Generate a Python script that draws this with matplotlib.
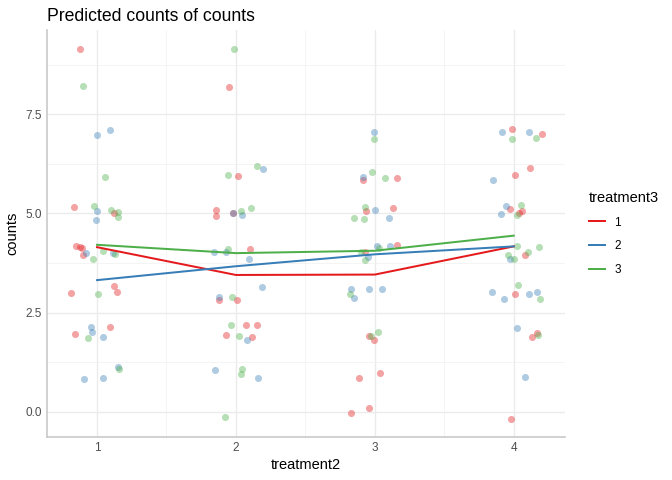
import numpy as np
import matplotlib.pyplot as plt
from matplotlib.ticker import MultipleLocator

plt.rcParams['font.family'] = ['Liberation Sans', 'DejaVu Sans']

# valors llegits del gràfic (punts amb jitter)
red_x = [0.875, 0.835, 1.12, 0.847, 0.878, 0.89, 0.897, 0.81, 1.12, 1.146, 1.09, 0.84,
         1.947, 2.014, 1.856, 1.854, 1.978, 2.10, 1.878, 2.01, 2.07, 2.15, 1.93, 2.115,
         2.914, 3.158, 2.933, 3.13, 3.16, 2.93, 2.955, 2.995, 2.885, 3.04, 2.955, 2.83,
         3.986, 4.20, 4.12, 4.01, 3.97, 4.06, 4.04, 4.08, 4.01, 4.17, 4.13, 3.98]
red_y = [9.14, 5.15, 5.0, 4.17, 4.16, 4.12, 3.95, 3.0, 3.17, 3.01, 2.13, 1.96,
         8.19, 5.93, 5.09, 4.94, 5.0, 4.10, 2.82, 2.81, 2.19, 2.20, 1.94, 1.90,
         5.83, 5.89, 5.07, 5.13, 4.21, 4.02, 1.91, 1.82, 0.86, 0.97, 0.09, -0.02,
         7.12, 6.99, 6.14, 5.96, 5.11, 5.07, 5.0, 3.96, 2.96, 2.0, 1.90, -0.18]

blue_x = [1.0, 1.09, 1.0, 0.995, 0.92, 1.115, 0.957, 0.964, 1.045, 1.149, 0.904, 1.045,
          2.194, 1.978, 2.045, 1.84, 1.926, 2.096, 2.19, 1.875, 2.08, 1.85, 2.16,
          2.993, 2.916, 3.0, 3.10, 3.012, 3.11, 2.95, 2.83, 2.96, 3.05, 2.85,
          3.916, 4.11, 3.85, 3.945, 3.906, 3.975, 3.84, 4.11, 4.17, 3.93, 4.02, 4.08]
blue_y = [6.98, 7.10, 5.06, 4.84, 4.01, 4.01, 2.14, 2.02, 1.90, 1.14, 0.83, 0.85,
          6.13, 5.0, 4.96, 4.04, 4.04, 3.85, 3.15, 2.90, 1.81, 1.06, 0.86,
          7.05, 5.92, 5.09, 4.89, 4.19, 4.17, 3.91, 3.10, 3.10, 3.10, 2.86,
          7.05, 7.05, 5.84, 5.18, 4.98, 3.84, 3.01, 2.96, 3.01, 2.85, 2.11, 0.89]

green_x = [0.90, 1.06, 0.976, 1.10, 1.153, 1.15, 0.97, 1.04, 1.127, 1.005, 0.935, 1.158,
           1.985, 2.155, 1.94, 2.034, 2.106, 1.945, 1.973, 1.966, 2.02, 2.04, 2.036, 1.92,
           2.995, 2.98, 3.07, 2.926, 2.85, 2.92, 3.03, 2.90, 2.93, 2.82, 3.02, 2.97,
           3.99, 4.16, 4.055, 4.02, 4.02, 4.105, 4.185, 3.96, 4.0, 4.03, 4.19, 4.177]
green_y = [8.22, 5.92, 5.19, 5.09, 5.03, 4.91, 3.85, 4.06, 3.97, 2.98, 1.86, 1.07,
           9.13, 6.20, 5.96, 5.06, 5.14, 4.11, 2.90, 2.20, 1.91, 1.07, 0.96, -0.13,
           6.87, 6.04, 5.88, 5.15, 4.89, 4.86, 4.14, 4.04, 3.83, 2.97, 2.01, 1.91,
           6.88, 6.90, 5.20, 4.95, 4.17, 4.02, 4.16, 3.95, 3.86, 3.20, 2.85, 1.93]

# prediccions
treatment2 = [1, 2, 3, 4]
pred_1 = [4.15, 3.45, 3.46, 4.17]
pred_2 = [3.32, 3.67, 3.97, 4.17]
pred_3 = [4.21, 4.00, 4.06, 4.44]

col1, col2, col3 = '#E41A1C', '#377EB8', '#4DAF4A'

fig = plt.figure(figsize=(7, 5), dpi=96)
ax = fig.add_axes([0.070, 0.0896, 0.771, 0.848])

ax.scatter(red_x, red_y, s=28, color=col1, alpha=0.4, linewidths=0, zorder=3)
ax.scatter(blue_x, blue_y, s=28, color=col2, alpha=0.4, linewidths=0, zorder=3)
ax.scatter(green_x, green_y, s=28, color=col3, alpha=0.4, linewidths=0, zorder=3)

ax.plot(treatment2, pred_1, color=col1, lw=1.5, label='1', zorder=4)
ax.plot(treatment2, pred_2, color=col2, lw=1.5, label='2', zorder=4)
ax.plot(treatment2, pred_3, color=col3, lw=1.5, label='3', zorder=4)

ax.set_xlim(0.64, 4.37)
ax.set_ylim(-0.63, 9.62)
ax.set_xticks([1, 2, 3, 4])
ax.set_yticks([0, 2.5, 5, 7.5])
ax.set_yticklabels(['0.0', '2.5', '5.0', '7.5'])
ax.xaxis.set_minor_locator(MultipleLocator(0.5))
ax.yaxis.set_minor_locator(MultipleLocator(1.25))
ax.grid(which='major', color='#EBEBEB', lw=1.0, zorder=0)
ax.grid(which='minor', color='#F2F2F2', lw=0.6, zorder=0)
ax.set_axisbelow(True)
ax.tick_params(which='both', length=0, labelsize=8.8, labelcolor='#4D4D4D', pad=4)

for s in ['top', 'right']:
    ax.spines[s].set_visible(False)
for s in ['left', 'bottom']:
    ax.spines[s].set_color('#C8C8C8')
    ax.spines[s].set_linewidth(1.2)

ax.set_xlabel('treatment2', fontsize=11, labelpad=3)
ax.set_ylabel('counts', fontsize=11, labelpad=4)
ax.set_title('Predicted counts of counts', fontsize=13.2, loc='left', pad=7)

leg = ax.legend(title='treatment3', loc='center left', bbox_to_anchor=(1.025, 0.5),
                frameon=False, fontsize=8.8, title_fontsize=11, handlelength=1.4,
                labelspacing=1.0, alignment='left')

fig.savefig('out.png', dpi=96)
